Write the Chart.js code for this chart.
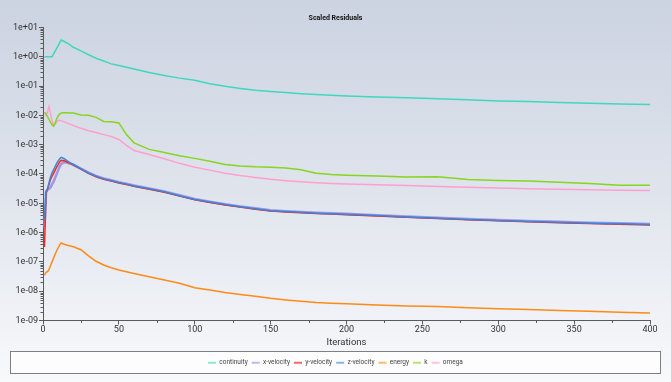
<!DOCTYPE html>
<html>
<head>
<meta charset="utf-8">
<script src="https://cdn.jsdelivr.net/npm/chart.js@4/dist/chart.umd.min.js"></script>
<style>
  html, body { margin: 0; padding: 0; }
  body { width: 671px; height: 382px; background: linear-gradient(#ccd3e1, #dde2eb 45%, #f8f9fb); overflow: hidden; }
  #wrap { position: relative; width: 671px; height: 382px; }
</style>
</head>
<body>
<div id="wrap"><canvas id="grafico"></canvas></div>
<script>
const iterations = [1,2,3,4,5,6,7,8,9,10,11,12,14,16,18,20,25,30,35,40,45,50,55,60,
  70,80,90,100,110,120,130,140,150,160,170,180,190,200,220,240,260,280,300,320,340,360,380,400];

const continuity = [1.0,1.0,1.0,1.0,1.0,1.0,1.24,1.55,1.93,2.4,3.0,3.7,
  3.3,2.9,2.5,2.1, 1.58,1.17,0.89,0.71,0.57,0.50,0.44,0.38,
  0.29,0.23,0.186,0.158,0.119,0.098,0.083,0.072,0.065,0.060,0.055,0.051,0.048,0.046,
  0.042,0.040,0.037,0.034,0.031,0.0295,0.0275,0.0257,0.0245,0.0234];

const xVelocity = [1.5e-6,2.5e-5,2.9e-5,3.1e-5,3.5e-5,4.5e-5,5.5e-5,7.5e-5,1.0e-4,1.35e-4,1.8e-4,2.2e-4,
  2.5e-4,2.4e-4,2.25e-4,2.05e-4, 1.53e-4,1.11e-4,8.55e-5,7.0e-5,6.05e-5,5.25e-5,4.63e-5,4.0e-5,
  3.2e-5,2.52e-5,1.86e-5,1.39e-5,1.13e-5,9.3e-6,7.8e-6,6.7e-6,5.8e-6,5.35e-6,5.05e-6,4.75e-6,4.55e-6,4.35e-6,
  3.9e-6,3.5e-6,3.2e-6,2.9e-6,2.68e-6,2.48e-6,2.32e-6,2.17e-6,2.06e-6,1.96e-6];

const yVelocity = [3.2e-7,2.2e-5,3.0e-5,4.5e-5,6.5e-5,8.5e-5,1.05e-4,1.35e-4,1.7e-4,2.1e-4,2.6e-4,2.9e-4,
  2.8e-4,2.55e-4,2.3e-4,2.0e-4, 1.46e-4,1.05e-4,8.05e-5,6.6e-5,5.72e-5,4.95e-5,4.37e-5,3.78e-5,
  3.0e-5,2.38e-5,1.75e-5,1.31e-5,1.07e-5,8.75e-6,7.38e-6,6.3e-6,5.43e-6,5.05e-6,4.75e-6,4.47e-6,4.27e-6,4.07e-6,
  3.68e-6,3.3e-6,3.0e-6,2.72e-6,2.52e-6,2.33e-6,2.18e-6,2.04e-6,1.93e-6,1.83e-6];

const zVelocity = [2.6e-6,2.4e-5,3.2e-5,5.0e-5,8.0e-5,1.1e-4,1.4e-4,1.8e-4,2.3e-4,2.8e-4,3.3e-4,3.7e-4,
  3.3e-4,2.8e-4,2.4e-4,2.1e-4, 1.5e-4,1.08e-4,8.3e-5,6.8e-5,5.9e-5,5.1e-5,4.5e-5,3.9e-5,
  3.1e-5,2.45e-5,1.8e-5,1.35e-5,1.1e-5,9.0e-6,7.6e-6,6.5e-6,5.6e-6,5.2e-6,4.9e-6,4.6e-6,4.4e-6,4.2e-6,
  3.8e-6,3.4e-6,3.1e-6,2.8e-6,2.6e-6,2.4e-6,2.25e-6,2.1e-6,2.0e-6,1.9e-6];

const energy = [3.5e-8,4.5e-8,4.6e-8,5.5e-8,7.5e-8,1.0e-7,1.35e-7,1.8e-7,2.4e-7,3.0e-7,3.8e-7,4.4e-7,
  4.0e-7,3.7e-7,3.5e-7,3.3e-7, 2.6e-7,1.6e-7,1.05e-7,7.8e-8,6.3e-8,5.3e-8,4.6e-8,4.0e-8,
  3.1e-8,2.4e-8,1.87e-8,1.32e-8,1.1e-8,9.0e-9,7.7e-9,6.7e-9,5.7e-9,5.0e-9,4.5e-9,4.1e-9,3.9e-9,3.7e-9,
  3.4e-9,3.15e-9,3.0e-9,2.7e-9,2.5e-9,2.35e-9,2.2e-9,2.05e-9,1.9e-9,1.8e-9];

const kResid = [0.0129,0.011,0.009,0.0072,0.0058,0.0047,0.0043,0.0055,0.0075,0.0095,0.011,0.012,
  0.0122,0.0122,0.0121,0.012, 0.0102,0.0100,0.0085,0.0062,0.0060,0.0055,0.0022,0.00115,
  6.9e-4,5.4e-4,4.2e-4,3.4e-4,2.7e-4,2.1e-4,1.85e-4,1.75e-4,1.7e-4,1.6e-4,1.4e-4,1.05e-4,9.5e-5,9.0e-5,
  8.5e-5,7.8e-5,8.0e-5,6.5e-5,6.0e-5,5.7e-5,5.2e-5,4.7e-5,4.1e-5,4.1e-5];

const omega = [0.0125,0.010,0.013,0.020,0.011,0.0065,0.0044,0.0050,0.0058,0.0066,0.0068,0.0066,
  0.0060,0.0054,0.0049,0.0045, 0.0036,0.0030,0.0026,0.0022,0.0019,0.0015,9.5e-4,6.3e-4,
  4.6e-4,3.3e-4,2.3e-4,1.7e-4,1.35e-4,1.05e-4,8.8e-5,7.6e-5,6.6e-5,5.9e-5,5.4e-5,5.0e-5,4.7e-5,4.5e-5,
  4.3e-5,4.0e-5,3.7e-5,3.5e-5,3.3e-5,3.1e-5,3.0e-5,2.9e-5,2.8e-5,2.75e-5];

const yTicks = [1e-9,1e-8,1e-7,1e-6,1e-5,1e-4,1e-3,1e-2,1e-1,1e0,1e1];
const xTicks = [0,50,100,150,200,250,300,350,400];

const series = [
  { label: 'continuity', data: continuity, color: '#3fd8bd', legend: 'rgba(63,216,189,0.6)', width: 1.5, order: 1 },
  { label: 'x-velocity', data: xVelocity, color: 'rgba(150,136,230,0.85)', legend: 'rgba(150,136,230,0.6)', width: 2.6, order: 3 },
  { label: 'y-velocity', data: yVelocity, color: '#f8261c', legend: 'rgba(248,38,28,0.7)', width: 1.5, order: 2 },
  { label: 'z-velocity', data: zVelocity, color: '#3a86d8', legend: 'rgba(58,134,216,0.6)', width: 1.5, order: 1 },
  { label: 'energy', data: energy, color: '#ff8a17', legend: 'rgba(255,138,23,0.6)', width: 1.5, order: 1 },
  { label: 'k', data: kResid, color: '#86d51e', legend: 'rgba(134,213,30,0.6)', width: 1.5, order: 1 },
  { label: 'omega', data: omega, color: '#ff9fcf', legend: 'rgba(255,159,207,0.6)', width: 1.5, order: 1 },
];

const fmtExp = (v) => {
  const e = Math.round(Math.log10(v));
  return '1e' + (e < 0 ? '-' : '+') + String(Math.abs(e)).padStart(2, '0');
};

const AXIS = '#5a5a5a';

// pequenos ticks menores (2..9 em cada década, e a cada 25 iterações)
const minorTicks = {
  id: 'minorTicks',
  afterDraw(chart) {
    const { ctx, scales: { x, y } } = chart;
    ctx.save();
    ctx.strokeStyle = AXIS; ctx.lineWidth = 1;
    ctx.beginPath();
    for (let i = 0; i < yTicks.length - 1; i++) {
      for (let m = 2; m <= 9; m++) {
        const py = Math.round(y.getPixelForValue(yTicks[i] * m)) + 0.5;
        ctx.moveTo(y.right - 2.5, py); ctx.lineTo(y.right, py);
      }
    }
    for (let i = 0; i < xTicks.length - 1; i++) {
      const px = Math.round(x.getPixelForValue((xTicks[i] + xTicks[i + 1]) / 2)) + 0.5;
      ctx.moveTo(px, x.top); ctx.lineTo(px, x.top + 2.5);
    }
    ctx.stroke();
    ctx.restore();
  }
};

// caixa branca atrás da legenda
const legendBox = {
  id: 'legendBox',
  beforeDraw(chart) {
    const lg = chart.legend;
    if (!lg || !lg.legendHitBoxes.length) return;
    const hb = lg.legendHitBoxes[0];
    const cy = hb.top + hb.height / 2;
    const { ctx } = chart;
    ctx.save();
    ctx.fillStyle = '#fdfdfe';
    ctx.strokeStyle = '#7f7f7f';
    ctx.lineWidth = 1;
    ctx.fillRect(10.5, Math.round(cy - 12) + 0.5, 650, 22);
    ctx.strokeRect(10.5, Math.round(cy - 12) + 0.5, 650, 22);
    ctx.restore();
  }
};

const legendItems = (chart) => Chart.defaults.plugins.legend.labels.generateLabels(chart).map(it => {
  const c = series[it.datasetIndex].legend;
  return { ...it, lineWidth: 0, strokeStyle: 'transparent', fillStyle: c };
});

new Chart(document.getElementById('grafico'), {
  type: 'line',
  data: {
    datasets: series.map(s => ({
      label: s.label,
      data: iterations.map((it, i) => ({ x: it, y: s.data[i] })),
      borderColor: s.color,
      backgroundColor: s.color,
      borderWidth: s.width,
      pointRadius: 0,
      tension: 0,
      order: s.order,
    })),
  },
  options: {
    responsive: true,
    maintainAspectRatio: false,
    animation: false,
    layout: { padding: { left: 0, right: 0, top: 0, bottom: 6 } },
    plugins: {
      title: {
        display: true, text: 'Scaled Residuals', color: '#111',
        font: { family: 'Roboto', size: 7, weight: 'bold' },
        padding: { top: 14, bottom: 5 },
      },
      legend: {
        position: 'bottom',
        labels: {
          boxWidth: 8, boxHeight: 2, padding: 4, color: '#444',
          font: { family: 'Roboto', size: 6.5 },
          generateLabels: legendItems,
          sort: (a, b) => a.datasetIndex - b.datasetIndex,
        },
      },
      tooltip: { enabled: false },
    },
    scales: {
      x: {
        type: 'linear', min: 0, max: 400,
        afterBuildTicks: (s) => { s.ticks = xTicks.map(v => ({ value: v })); },
        afterFit: (s) => { s.height = 35; },
        grid: { drawOnChartArea: false, tickLength: 4, color: AXIS },
        border: { color: AXIS },
        ticks: { color: '#333', padding: 0, maxRotation: 0, font: { family: 'Roboto', size: 9 } },
        title: { display: true, text: 'Iterations', color: '#333', padding: { top: 3, bottom: 7 },
          font: { family: 'Roboto', size: 9.5 } },
      },
      y: {
        type: 'logarithmic', min: 1e-9, max: 10,
        afterBuildTicks: (s) => { s.ticks = yTicks.map(v => ({ value: v })); },
        afterFit: (s) => { s.width = 43; },
        grid: { drawOnChartArea: false, tickLength: 4, color: AXIS },
        border: { color: AXIS },
        ticks: { color: '#333', padding: 1, callback: fmtExp, font: { family: 'Roboto', size: 9 } },
      },
      pad: {
        type: 'linear', position: 'right', display: true,
        afterFit: (s) => { s.width = 21; },
        grid: { display: false }, border: { display: false }, ticks: { display: false },
      },
    },
  },
  plugins: [minorTicks, legendBox],
});
</script>
</body>
</html>
